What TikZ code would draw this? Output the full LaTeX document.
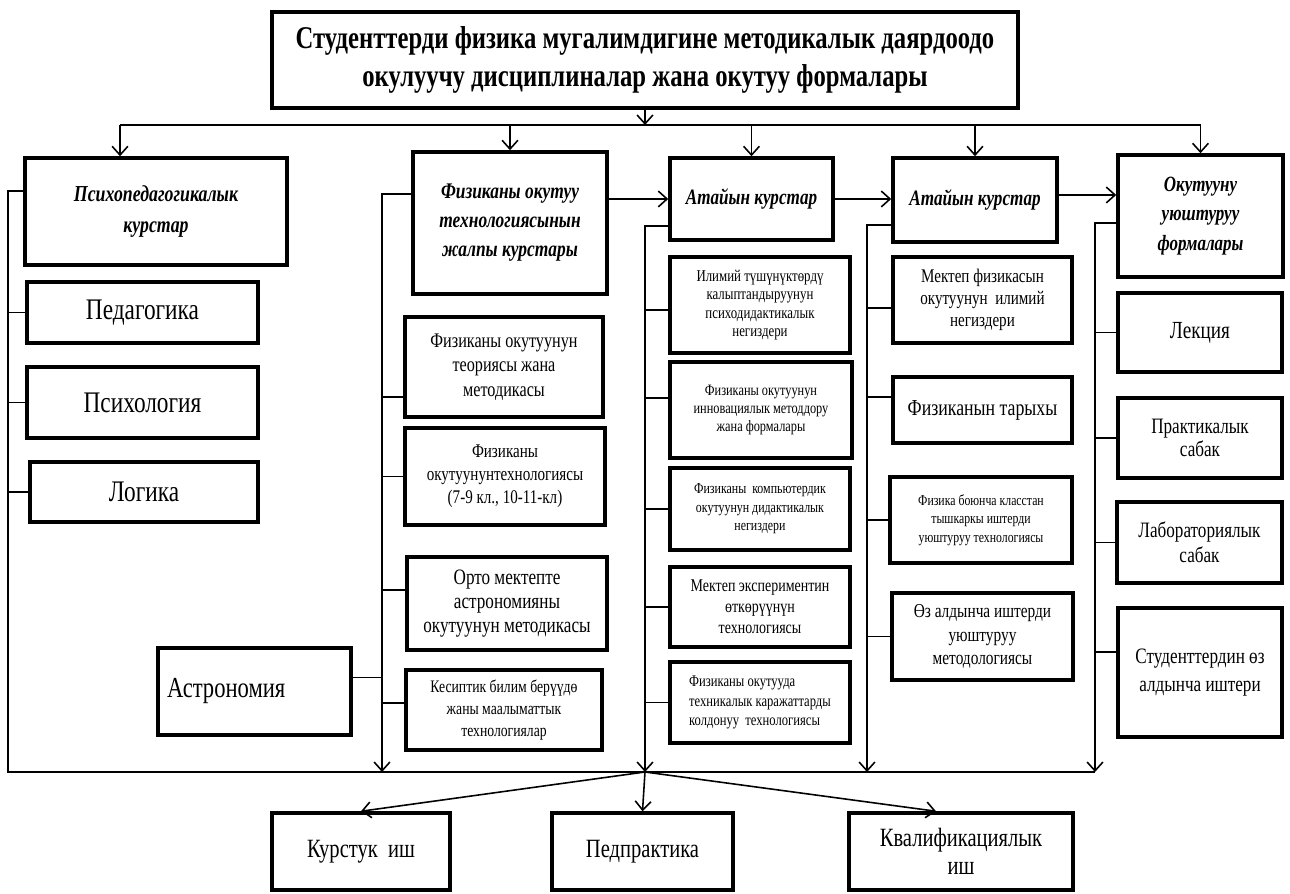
\documentclass[tikz,border=0pt]{standalone}
\usepackage{fontspec}
\setmainfont{Liberation Serif}[FakeStretch=0.78]
\usetikzlibrary{arrows.meta,positioning,calc}

\begin{document}
\begin{tikzpicture}[
      box/.style={draw,line width=2pt,align=center,inner sep=2pt},
      sz/.style 2 args={minimum width=#1cm,minimum height=#2cm},
      fs/.style 2 args={font=\fontsize{#1}{#2}\selectfont},
      title/.style={box,font=\fontsize{18}{22}\selectfont\bfseries},
      head/.style 2 args={box,font=\fontsize{#1}{#2}\selectfont\bfseries\itshape},
      link/.style={line width=0.9pt},
      arrow/.style={link,-{Straight Barb[length=5pt,width=9pt]}},
    ]
    \useasboundingbox (0,0) rectangle (25.8,-17.88);

    % Title
    \node[title,sz={14.92}{1.92}] (title) at (12.9,-1.2)
      {Студенттерди физика мугалимдигине методикалык даярдоодо\\
       окулуучу дисциплиналар жана окутуу формалары};

    % Psychopedagogical courses
    \node[head={13}{18},sz={5.24}{2.14}] (psy) at (3.12,-4.23)
      {Психопедагогикалык\\ курстар};
    \node[box,fs={17}{20},sz={4.62}{1.22}] (ped) at (2.85,-6.25) {Педагогика};
    \node[box,fs={17}{20},sz={4.62}{1.42}] (psx) at (2.85,-8.05) {Психология};
    \node[box,fs={17}{20},sz={4.56}{1.2}]  (log) at (2.88,-9.84) {Логика};

    % General courses of physics teaching technology
    \node[head={12.7}{16.5},sz={3.88}{2.84}] (fiz) at (10.2,-4.46)
      {Физиканы окутуу\\ технологиясынын\\ жалпы курстары};
    \node[box,fs={11.8}{14},sz={3.96}{2.0}] (f2a) at (10.08,-7.34)
      {Физиканы окутуунун\\ теориясы жана\\ методикасы};
    \node[box,fs={11}{13},sz={4.0}{1.94}] (f2b) at (10.1,-9.53)
      {Физиканы\\ окутуунунтехнологиясы\\ (7-9 кл., 10-11-кл)};
    \node[box,fs={12.5}{13.5},sz={4.0}{1.86}] (f2c) at (10.14,-12.07)
      {Орто мектепте\\ астрономияны\\ окутуунун методикасы};
    \node[box,fs={10}{12.5},sz={3.92}{1.6}] (f2d) at (10.08,-14.2)
      {Кесиптик билим берүүдө\\ жаны маалыматтык\\ технологиялар};
    \node[box,fs={16.5}{20},sz={3.86}{1.74},text width=3.5cm,align=left] (ast) at (5.09,-13.83)
      {Астрономия};

    % Special courses (1)
    \node[head={12.5}{16},sz={3.26}{1.64}] (at1) at (15.03,-3.98)
      {Атайын курстар};
    \node[box,fs={9.4}{10.5},sz={3.6}{1.92}] (a3a) at (15.2,-6.1)
      {Илимий түшүнүктөрдү\\ калыптандыруунун\\ психодидактикалык\\ негиздери};
    \node[box,fs={9}{10.5},sz={3.64}{1.92}] (a3b) at (15.22,-8.2)
      {Физиканы окутуунун\\ инновациялык методдору\\ жана формалары};
    \node[box,fs={8.7}{10.5},sz={3.6}{1.64}] (a3c) at (15.2,-10.18)
      {Физиканы\ \ компьютердик\\ окутуунун дидактикалык\\ негиздери};
    \node[box,fs={10.2}{12},sz={3.6}{1.6}] (a3d) at (15.2,-12.14)
      {Мектеп экспериментин\\ өткөрүүнүн\\ технологиясы};
    \node[box,fs={9.2}{11},sz={3.6}{1.62},align=left] (a3e) at (15.2,-14.05)
      {Физиканы окутууда\\ техникалык каражаттарды\\ колдонуу\ \ технологиясы};

    % Special courses (2)
    \node[head={12.5}{16},sz={3.28}{1.68}] (at2) at (19.5,-4.0)
      {Атайын курстар};
    \node[box,fs={11}{12.5},sz={3.58}{1.72}] (a4a) at (19.65,-6.0)
      {Мектеп физикасын\\ окутуунун\ \ илимий\\ негиздери};
    \node[box,fs={13}{16},sz={3.58}{1.32}] (a4b) at (19.65,-8.2)
      {Физиканын тарыхы};
    \node[box,fs={8.6}{10.5},sz={3.64}{1.72}] (a4c) at (19.62,-10.4)
      {Физика боюнча класстан\\ тышкаркы иштерди\\ уюштуруу технологиясы};
    \node[box,fs={11.2}{13.5},sz={3.62}{1.74}] (a4d) at (19.65,-12.73)
      {Өз алдынча иштерди\\ уюштуруу\\ методологиясы};

    % Forms of organising teaching
    \node[head={12.4}{17},sz={3.3}{2.44}] (ok) at (24.01,-4.32)
      {Окутууну\\ уюштуруу\\ формалары};
    \node[box,fs={14}{17},sz={3.28}{1.58}] (lek) at (24.0,-6.65) {Лекция};
    \node[box,fs={12.5}{13.5},sz={3.28}{1.6}] (pra) at (24.0,-8.76)
      {Практикалык\\ сабак};
    \node[box,fs={12.5}{14},sz={3.3}{1.62}] (lab) at (23.99,-10.85)
      {Лабораториялык\\ сабак};
    \node[box,fs={12.5}{16},sz={3.28}{2.58}] (stu) at (24.0,-13.45)
      {Студенттердин өз\\ алдынча иштери};

    % Final forms
    \node[box,fs={15}{16},sz={3.56}{1.54}] (kur) at (7.22,-17.03) {Курстук\ \ иш};
    \node[box,fs={15}{16},sz={3.62}{1.54}] (pdp) at (12.85,-17.03) {Педпрактика};
    \node[box,fs={15}{16},sz={4.48}{1.54}] (kva) at (19.22,-17.03)
      {Квалификациялык\\ иш};

    % Top distribution line
    \coordinate (busL) at (2.4,-2.5);
    \coordinate (busR) at (ok.north |- busL);
    \draw[link] (busL) -- (busR);
    \draw[arrow] (title.south) -- (title.south |- busL);
    \draw[arrow] (busL) -- (busL |- psy.north);
    \foreach \n in {fiz,at1,at2,ok}
      \draw[arrow] (\n.north |- busL) -- (\n.north);

    % Links between headers
    \draw[arrow] (fiz.east |- at1.west) -- (at1.west);
    \draw[arrow] (at1.east) -- (at1.east -| at2.west);
    \draw[arrow] ([yshift=1mm]at2.east) -- ([yshift=1mm]at2.east -| ok.west);

    % Bottom collecting line
    \coordinate (b1)  at (0.16,-15.44);
    \coordinate (b2)  at (7.64,-15.44);
    \coordinate (hub) at (12.9,-15.44);
    \coordinate (b4)  at (17.34,-15.44);
    \coordinate (b5)  at (21.9,-15.44);

    \draw[link] ([yshift=4.1mm]psy.west) -| (b1) -- (b5);
    \draw[arrow] ([yshift=5.8mm]fiz.west) -| (b2);
    \draw[arrow] ([yshift=-5.4mm]at1.west) -| (hub);
    \draw[arrow] ([yshift=-5mm]at2.west) -| (b4);
    \draw[arrow] ([yshift=-1.4mm]ok.west) -| (b5);

    % Branches
    \foreach \n in {ped,psx,log}
      \draw[link] (\n.west) -- (\n.west -| b1);
    \foreach \n/\s in {f2a/-6,f2b/0,f2c/2.7,f2d/1.4}
      \draw[link] ([yshift=\s mm]\n.west) -- ([yshift=\s mm]\n.west -| b2);
    \draw[link] ([yshift=2.8mm]ast.east) -- ([yshift=2.8mm]ast.east -| b2);
    \foreach \n/\s in {a3a/-1,a3b/2.4,a3c/0,a3d/0,a3e/0}
      \draw[link] ([yshift=\s mm]\n.west) -- ([yshift=\s mm]\n.west -| hub);
    \foreach \n/\s in {a4a/-1.6,a4b/2.6,a4c/0,a4d/0}
      \draw[link] ([yshift=\s mm]\n.west) -- ([yshift=\s mm]\n.west -| b4);
    \foreach \n/\s in {lek/0,pra/0,lab/0,stu/4.1}
      \draw[link] ([yshift=\s mm]\n.west) -- ([yshift=\s mm]\n.west -| b5);

    % To final forms
    \draw[arrow] (hub) -- (kur.north);
    \draw[arrow] (hub) -- (pdp.north);
    \draw[arrow] (hub) -- ([xshift=-5mm]kva.north);

\end{tikzpicture}
\end{document}
